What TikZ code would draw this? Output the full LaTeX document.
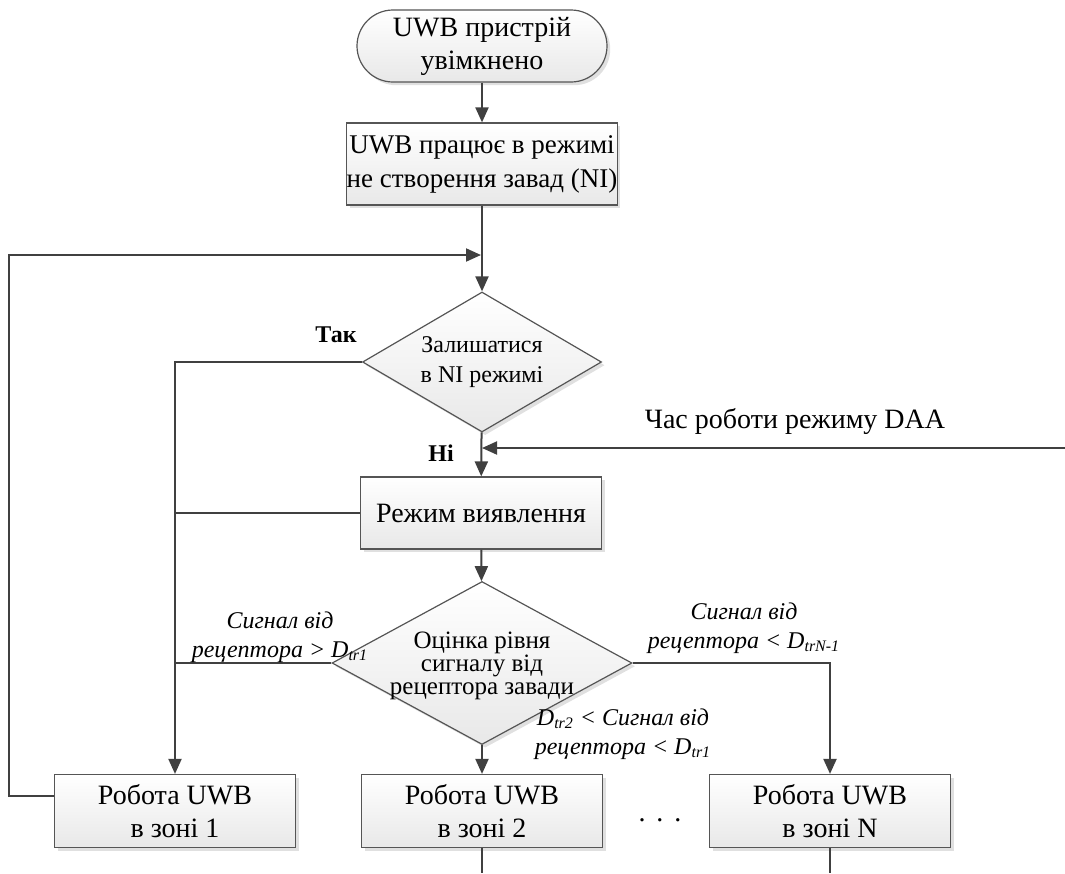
\documentclass[tikz,border=0pt]{standalone}
\usepackage{fontspec}
\setmainfont{Liberation Serif}
\usetikzlibrary{shapes.geometric,arrows.meta,shadows,positioning}
\definecolor{linegray}{RGB}{64,64,64}
\definecolor{boxgray}{RGB}{85,85,85}
\newcommand\boxfont{\fontsize{14}{16.5}\selectfont}
\newcommand\lblfont{\itshape\fontsize{12}{14.5}\selectfont}
\tikzset{
line/.style={draw=linegray,line width=1pt},
arr/.style={line,-{Triangle[length=7.5pt,width=6.5pt]}},
block/.style={rectangle,draw=boxgray,line width=0.6pt,top color=white,bottom color=black!9,
  drop shadow={shadow xshift=1.6pt,shadow yshift=-1.6pt,fill=black!12,opacity=1},
  align=center,font=\boxfont,inner sep=0pt},
terminal/.style={block,rounded corners=18pt},
decision/.style={diamond,draw=boxgray,line width=0.6pt,top color=white,bottom color=black!9,
  drop shadow={shadow xshift=1.6pt,shadow yshift=-1.6pt,fill=black!12,opacity=1},
  align=center,inner sep=0pt,aspect=1.7}
}
\begin{document}
\begin{tikzpicture}[x=0.5pt,y=-0.5pt]
\useasboundingbox (0,0) rectangle (1065,873);
\node[terminal,minimum width=125pt,minimum height=36pt] (start) at (482,46) {UWB пристрій\\увімкнено};
\node[block,minimum width=134.5pt,minimum height=41pt,font=\fontsize{13.5}{17}\selectfont] (ni) at (482,164) {UWB працює в режимі\\не створення завад (NI)};
\node[decision,minimum width=119.5pt,minimum height=70pt,font=\fontsize{12}{15}\selectfont] (q1) at (482,362) {Залишатися\\в NI режимі};
\node[block,minimum width=120.5pt,minimum height=36pt] (detect) at (481,513) {Режим виявлення};
\node[decision,minimum width=150pt,minimum height=81.5pt] (q2) at (482,663) {};
\node[align=center,font=\fontsize{12.5}{11.5}\selectfont,inner sep=0pt] (q2text) at (482,666) {Оцінка рівня\\сигналу від\\рецептора завади};
\node[block,minimum width=120.5pt,minimum height=36.5pt] (zone1) at (175,811) {Робота UWB\\в зоні 1};
\node[block,minimum width=120.5pt,minimum height=36.5pt] (zone2) at (482,811) {Робота UWB\\в зоні 2};
\node[block,minimum width=120.5pt,minimum height=36.5pt] (zoneN) at (830,811) {Робота UWB\\в зоні N};
\node[font=\boxfont] (dots) at (660,820) {.\hspace{5.5pt}.\hspace{5.5pt}.};

\coordinate (merge) at (481,255);
\coordinate (loop) at (9,255);
\coordinate (daa) at (1065,448);
\coordinate (floor) at (0,873);

\draw[arr] (start) -- (ni);
\draw[arr] (ni) -- (q1);
\draw[arr] ([yshift=7.5pt]zone1.west) -| (loop) -- (merge);
\draw[arr] (q1.west) -| (zone1.north);
\draw[line] (detect.west) -- (detect.west -| zone1.north);
\draw[line] (q2.west) -- (q2.west -| zone1.north);
\draw[arr] (q1) -- (detect);
\draw[arr] (daa) -- (daa -| q1.south);
\draw[arr] (detect) -- (q2);
\draw[arr] (q2) -- (zone2);
\draw[arr] (q2.east) -| (zoneN.north);
\draw[line] (zone2.south) -- (zone2.south |- floor);
\draw[line] (zoneN.south) -- (zoneN.south |- floor);

\node[font=\bfseries\fontsize{12}{14}\selectfont] (yes) at (336,335) {Так};
\node[font=\bfseries\fontsize{12}{14}\selectfont] (no) at (441,453) {Ні};
\node[font=\fontsize{14}{16}\selectfont] (daalbl) at (795,421) {Час роботи режиму DAA};
\node[align=center,font=\lblfont,inner sep=0pt] (lbl1) at (280,637) {Сигнал від\\рецептора > D\textsubscript{tr1}};
\node[align=center,font=\lblfont,inner sep=0pt] (lbl2) at (623,734) {D\textsubscript{tr2} < Сигнал від\\рецептора < D\textsubscript{tr1}};
\node[align=center,font=\lblfont,inner sep=0pt] (lblN) at (744,628) {Сигнал від\\рецептора < D\textsubscript{trN-1}};
\end{tikzpicture}
\end{document}
